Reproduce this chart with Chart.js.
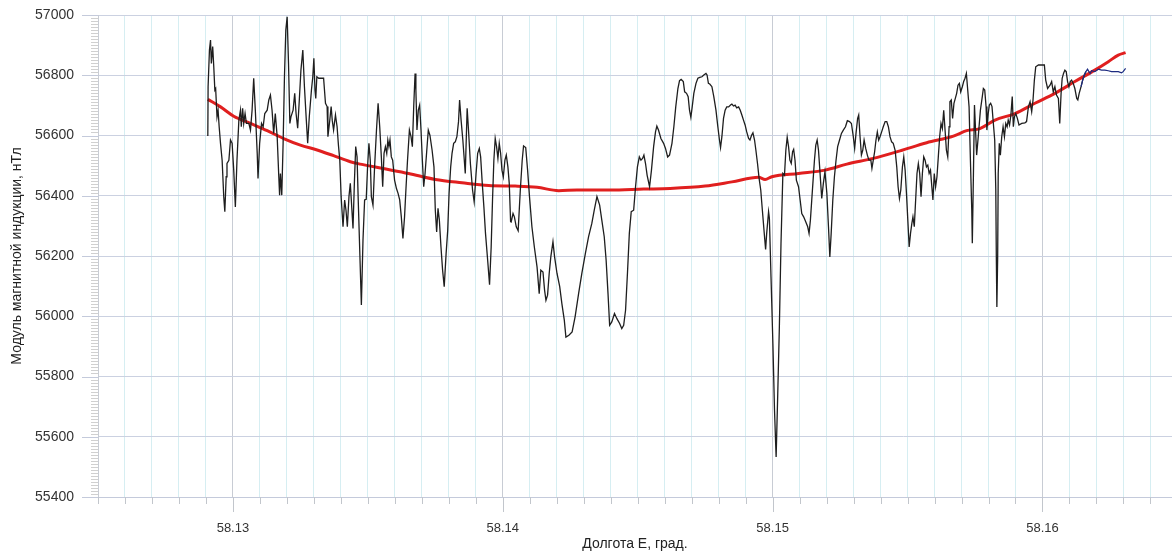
<!DOCTYPE html>
<html>
<head>
<meta charset="utf-8">
<script src="https://cdn.jsdelivr.net/npm/chart.js@4.4.1/dist/chart.umd.min.js"></script>
<style>
  html, body { margin: 0; padding: 0; background: #fff; }
  #wrap { width: 1172px; height: 558px; }
</style>
</head>
<body>
<div id="wrap"><canvas id="magnetic"></canvas></div>
<script>
// longitude (deg E) and total field (nT) along the profile
const lonMain = [
  58.12907, 58.12908, 58.12913, 58.12917, 58.12920, 58.12925, 58.12929, 58.12933, 58.12936, 58.12941,
  58.12945, 58.12949, 58.12954, 58.12960, 58.12966, 58.12970, 58.12975, 58.12978, 58.12985, 58.12991,
  58.12997, 58.13003, 58.13009, 58.13015, 58.13022, 58.13028, 58.13031, 58.13036, 58.13040, 58.13045,
  58.13050, 58.13059, 58.13065, 58.13071, 58.13077, 58.13083, 58.13090, 58.13093, 58.13099, 58.13106,
  58.13112, 58.13118, 58.13127, 58.13133, 58.13139, 58.13145, 58.13151, 58.13157, 58.13164, 58.13170,
  58.13173, 58.13176, 58.13181, 58.13186, 58.13191, 58.13196, 58.13201, 58.13206, 58.13211, 58.13215,
  58.13223, 58.13229, 58.13234, 58.13240, 58.13246, 58.13252, 58.13259, 58.13265, 58.13272, 58.13277,
  58.13283, 58.13291, 58.13296, 58.13300, 58.13304, 58.13307, 58.13311, 58.13318, 58.13336, 58.13343,
  58.13349, 58.13352, 58.13359, 58.13364, 58.13368, 58.13373, 58.13380, 58.13386, 58.13391, 58.13396,
  58.13401, 58.13408, 58.13414, 58.13419, 58.13424, 58.13430, 58.13435, 58.13441, 58.13445, 58.13450,
  58.13455, 58.13460,
  58.13464, 58.13476, 58.13482, 58.13488, 58.13494, 58.13499, 58.13504, 58.13509, 58.13513, 58.13519,
  58.13525, 58.13532, 58.13538, 58.13544, 58.13550, 58.13555, 58.13560, 58.13565, 58.13570, 58.13574,
  58.13578, 58.13582, 58.13587, 58.13592, 58.13599, 58.13606, 58.13612, 58.13618, 58.13624, 58.13630,
  58.13636, 58.13641, 58.13647, 58.13654, 58.13660, 58.13665, 58.13670, 58.13675, 58.13678, 58.13682,
  58.13687, 58.13692, 58.13697, 58.13702, 58.13707, 58.13712, 58.13718, 58.13724, 58.13730, 58.13738,
  58.13745, 58.13750, 58.13755, 58.13760, 58.13765, 58.13771, 58.13777, 58.13783, 58.13790, 58.13796,
  58.13801, 58.13807, 58.13812, 58.13818, 58.13824, 58.13830, 58.13836, 58.13840, 58.13846, 58.13852,
  58.13861, 58.13868, 58.13873, 58.13880, 58.13888, 58.13894, 58.13901, 58.13907, 58.13913, 58.13918,
  58.13924, 58.13930, 58.13936, 58.13944, 58.13951, 58.13957, 58.13962, 58.13967, 58.13972, 58.13977,
  58.13982, 58.13987, 58.13992, 58.13997, 58.14002, 58.14008, 58.14013, 58.14019, 58.14024, 58.14029,
  58.14031, 58.14038, 58.14043, 58.14050, 58.14057, 58.14065, 58.14072, 58.14077, 58.14085, 58.14092,
  58.14099, 58.14108, 58.14117, 58.14127, 58.14135, 58.14141, 58.14149, 58.14155, 58.14160, 58.14166,
  58.14172, 58.14178, 58.14186, 58.14192, 58.14201, 58.14211, 58.14219, 58.14228, 58.14234, 58.14245,
  58.14257, 58.14268, 58.14281, 58.14293, 58.14306, 58.14318, 58.14330, 58.14339, 58.14349, 58.14359,
  58.14367, 58.14376, 58.14383, 58.14390, 58.14396, 58.14404, 58.14414, 58.14423, 58.14433, 58.14441,
  58.14448, 58.14455, 58.14462, 58.14469, 58.14476, 58.14485, 58.14492, 58.14499, 58.14506, 58.14512,
  58.14518, 58.14523, 58.14529, 58.14535, 58.14544, 58.14551, 58.14559, 58.14566, 58.14571, 58.14577,
  58.14586, 58.14596, 58.14603, 58.14611, 58.14618,
  58.14627, 58.14634, 58.14641, 58.14649, 58.14655, 58.14661, 58.14669, 58.14674, 58.14681, 58.14687,
  58.14692, 58.14697, 58.14702, 58.14708, 58.14716, 58.14723, 58.14730, 58.14738, 58.14745, 58.14753,
  58.14757, 58.14762, 58.14767, 58.14775, 58.14782, 58.14790, 58.14797, 58.14803, 58.14807, 58.14812,
  58.14818, 58.14824, 58.14830, 58.14837, 58.14844, 58.14849, 58.14855, 58.14861, 58.14867, 58.14874,
  58.14880, 58.14886, 58.14892, 58.14898, 58.14904, 58.14911, 58.14916, 58.14922, 58.14927, 58.14933,
  58.14938, 58.14944, 58.14950, 58.14956, 58.14962, 58.14969, 58.14974, 58.14978, 58.14985, 58.14988,
  58.14994, 58.15001, 58.15007, 58.15013, 58.15019, 58.15025, 58.15031, 58.15038, 58.15044, 58.15049,
  58.15054, 58.15059, 58.15064, 58.15069, 58.15074, 58.15078, 58.15083, 58.15088, 58.15096, 58.15102,
  58.15108, 58.15115, 58.15123, 58.15130, 58.15135, 58.15140, 58.15145, 58.15150, 58.15155, 58.15160,
  58.15165, 58.15170, 58.15175,
  58.15182, 58.15188, 58.15194, 58.15201, 58.15207, 58.15212, 58.15217, 58.15223, 58.15229, 58.15235,
  58.15241, 58.15248, 58.15255, 58.15262, 58.15270, 58.15277, 58.15285, 58.15292, 58.15299, 58.15304,
  58.15309, 58.15315, 58.15319, 58.15324, 58.15329, 58.15334, 58.15339, 58.15345, 58.15351, 58.15357,
  58.15364, 58.15368, 58.15373, 58.15378, 58.15383, 58.15388, 58.15393, 58.15398, 58.15404, 58.15410,
  58.15417, 58.15423, 58.15429, 58.15435, 58.15441, 58.15447, 58.15454, 58.15460, 58.15465, 58.15470,
  58.15475, 58.15481, 58.15486, 58.15491, 58.15496, 58.15501, 58.15506, 58.15511, 58.15516, 58.15520,
  58.15525, 58.15530, 58.15535, 58.15540, 58.15545, 58.15550, 58.15555, 58.15560, 58.15565, 58.15570,
  58.15575, 58.15580, 58.15585, 58.15589, 58.15594, 58.15599, 58.15604, 58.15609, 58.15614, 58.15619,
  58.15624, 58.15629, 58.15634, 58.15639, 58.15644, 58.15649, 58.15654, 58.15657, 58.15662, 58.15667,
  58.15672, 58.15677, 58.15682, 58.15687, 58.15692, 58.15697, 58.15703, 58.15708, 58.15713, 58.15718,
  58.15723, 58.15728, 58.15733, 58.15738, 58.15740, 58.15744, 58.15748,
  58.15756, 58.15762, 58.15770, 58.15777, 58.15781, 58.15786, 58.15791, 58.15794, 58.15799, 58.15803,
  58.15808, 58.15813, 58.15818, 58.15823, 58.15827, 58.15829, 58.15831, 58.15834, 58.15836, 58.15840,
  58.15844, 58.15849, 58.15854, 58.15859, 58.15864, 58.15869, 58.15873, 58.15878, 58.15883, 58.15888,
  58.15892, 58.15896, 58.15901, 58.15907, 58.15913, 58.15923, 58.15935, 58.15941, 58.15948, 58.15954,
  58.15960, 58.15965, 58.15970, 58.15975, 58.15985, 58.15997, 58.16007, 58.16012, 58.16019, 58.16028,
  58.16034, 58.16040, 58.16046, 58.16052, 58.16059, 58.16064, 58.16069, 58.16073, 58.16078, 58.16083,
  58.16088, 58.16093, 58.16098, 58.16103, 58.16108, 58.16114, 58.16120, 58.16127, 58.16131, 58.16136,
  58.16143, 58.16149, 58.16155, 58.16161
];
const fieldMain = [
  56598, 56762, 56884, 56917, 56839, 56895, 56828, 56751, 56756, 56662,
  56684, 56629, 56574, 56518, 56397, 56347, 56463, 56507, 56518, 56585,
  56574, 56485, 56363, 56518, 56651, 56684, 56629, 56690, 56640, 56673,
  56640, 56640, 56618, 56684, 56790, 56684, 56541, 56457, 56574, 56640,
  56629, 56673, 56684, 56718, 56734, 56684, 56607, 56673, 56596, 56463,
  56402, 56474, 56402, 56574, 56795, 56950, 56994, 56839, 56640, 56662,
  56684, 56740, 56673, 56624, 56718, 56817, 56884, 56762, 56651, 56574,
  56662, 56751, 56795, 56856, 56751, 56723, 56795, 56790, 56790, 56707,
  56696, 56596, 56651, 56696, 56651, 56618, 56668, 56629, 56568, 56518,
  56397, 56297, 56386, 56352, 56297, 56397, 56441, 56352, 56291, 56441,
  56563, 56529,
  56397, 56037, 56253, 56386, 56388, 56496, 56574, 56518, 56397, 56369,
  56496, 56618, 56707, 56629, 56529, 56430, 56541, 56563, 56541, 56585,
  56563, 56585, 56529, 56518, 56452, 56424, 56408, 56386, 56330, 56258,
  56330, 56419, 56518, 56618, 56596, 56563, 56696, 56806, 56751, 56618,
  56684, 56701, 56618, 56518, 56430, 56474, 56546, 56618, 56601, 56552,
  56496, 56352, 56280, 56358, 56319, 56230, 56153, 56098, 56208, 56286,
  56408, 56496, 56541, 56574, 56579, 56596, 56646, 56718, 56646, 56585,
  56474, 56690, 56618, 56507, 56419, 56380, 56474, 56541, 56557, 56529,
  56441, 56363, 56275, 56186, 56105, 56230, 56386, 56518, 56590, 56563,
  56524, 56574, 56541, 56485, 56463, 56518, 56535, 56496, 56441, 56314,
  56313, 56341, 56330, 56297, 56284, 56419, 56518, 56565, 56560, 56485,
  56397, 56297, 56230, 56164, 56075, 56153, 56147, 56086, 56053, 56070,
  56142, 56197, 56247, 56197, 56142, 56098, 56042, 55987, 55931, 55937,
  55948, 55998, 56075, 56142, 56208, 56264, 56308, 56352, 56397, 56369,
  56319, 56264, 56186, 56075, 55970, 55981, 56009, 55992, 55976, 55959,
  55970, 56020, 56142, 56275, 56347, 56352, 56430, 56496, 56529, 56518,
  56524, 56535, 56507, 56468, 56430, 56485, 56563, 56612, 56631, 56618,
  56590, 56574, 56557, 56529, 56535,
  56574, 56629, 56695, 56756, 56782, 56786, 56779, 56745, 56740, 56729,
  56684, 56660, 56695, 56740, 56773, 56790, 56793, 56795, 56801, 56806,
  56801, 56773, 56771, 56762, 56729, 56684, 56629, 56585, 56560, 56596,
  56657, 56684, 56695, 56695, 56701, 56704, 56698, 56701, 56692, 56695,
  56684, 56668, 56651, 56635, 56612, 56590, 56585, 56601, 56609, 56585,
  56551, 56507, 56457, 56419, 56352, 56275, 56222, 56275, 56347, 56325,
  56131, 55909, 55688, 55533, 55743, 55965, 56241, 56474, 56468, 56551,
  56594, 56563, 56518, 56507, 56546, 56554, 56518, 56452, 56430, 56386,
  56341, 56330, 56313, 56297, 56275, 56319, 56386, 56452, 56518, 56568,
  56585, 56551, 56485,
  56391, 56441, 56480, 56408, 56297, 56197, 56275, 56386, 56463, 56518,
  56563, 56585, 56607, 56618, 56629, 56649, 56646, 56640, 56596, 56557,
  56607, 56657, 56668, 56596, 56535, 56551, 56585, 56557, 56535, 56518,
  56518, 56491, 56518, 56546, 56585, 56612, 56585, 56596, 56612, 56629,
  56646, 56646, 56629, 56596, 56579, 56574, 56551, 56496, 56430, 56391,
  56419, 56496, 56529, 56485, 56408, 56319, 56230, 56275, 56308, 56330,
  56297, 56386, 56474, 56507, 56474, 56397, 56474, 56529, 56518, 56496,
  56502, 56474, 56485, 56441, 56386, 56474, 56430, 56463, 56529, 56596,
  56640, 56623, 56684, 56618, 56551, 56529, 56629, 56712, 56718, 56657,
  56707, 56723, 56740, 56767, 56773, 56745, 56762, 56779, 56790, 56806,
  56751, 56695, 56518, 56352, 56242, 56463, 56701,
  56535, 56596, 56684, 56729, 56756, 56751, 56696, 56618, 56673, 56701,
  56707, 56696, 56640, 56585, 56419, 56197, 56031, 56197, 56474, 56574,
  56535, 56596, 56629, 56596, 56640, 56629, 56651, 56635, 56668, 56729,
  56629, 56662, 56673, 56657, 56635, 56640, 56642, 56646, 56696, 56712,
  56679, 56718, 56784, 56828, 56834, 56834, 56834, 56784, 56756, 56767,
  56779, 56745, 56762, 56734, 56723, 56640, 56740, 56790, 56806, 56817,
  56812, 56779, 56762, 56779, 56784, 56773, 56756, 56723, 56718, 56740,
  56762, 56784, 56801, 56812
];
// end of the profile, second (navy) trace
const lonTail = [
  58.16143, 58.16149, 58.16155, 58.16161, 58.16167, 58.16172, 58.16177, 58.16182, 58.16194, 58.16207,
  58.16219, 58.16231, 58.16244, 58.16256, 58.16269, 58.16281, 58.16293, 58.16299, 58.16308
];
const fieldTail = [
  56762, 56784, 56801, 56812, 56820, 56812, 56806, 56815, 56812, 56820,
  56817, 56817, 56815, 56812, 56812, 56812, 56808, 56812, 56823
];
// regional trend
const lonTrend = [
  58.12907, 58.12954, 58.13003, 58.13065, 58.13127, 58.13188, 58.13250, 58.13312, 58.13373, 58.13435,
  58.13472, 58.13552, 58.13651, 58.13750, 58.13849, 58.13948, 58.14046, 58.14127, 58.14207, 58.14275,
  58.14398, 58.14522, 58.14620, 58.14750, 58.14849, 58.14948, 58.14972, 58.14997, 58.15096, 58.15195,
  58.15275, 58.15373, 58.15472, 58.15571, 58.15670, 58.15719, 58.15768, 58.15824, 58.15898, 58.15972,
  58.16046, 58.16120, 58.16194, 58.16244, 58.16281, 58.16308
];
const fieldTrend = [
  56720, 56695, 56664, 56640, 56616, 56590, 56568, 56552, 56533, 56513,
  56505, 56491, 56474, 56454, 56443, 56434, 56432, 56428, 56417, 56419,
  56419, 56422, 56424, 56432, 56446, 56461, 56454, 56463, 56474, 56485,
  56505, 56524, 56549, 56576, 56598, 56616, 56623, 56651, 56673, 56707,
  56740, 56779, 56817, 56845, 56867, 56875
];
const xTickLabels = ['58.13', '58.14', '58.15', '58.16'];
const yTicks = [55400, 55600, 55800, 56000, 56200, 56400, 56600, 56800, 57000];

const toXY = (xs, ys) => xs.map((x, i) => ({x: x, y: ys[i]}));
const isMajor = v => xTickLabels.some(l => Math.abs(parseFloat(l) - v) < 1e-7);

const font = 'Liberation Sans, Arial, sans-serif';

const axisMarks = {
  id: 'axisMarks',
  afterDraw(chart) {
    const {ctx, chartArea, scales: {x, y}} = chart;
    ctx.save();
    ctx.lineWidth = 1;
    // minor hatch along the y axis
    ctx.strokeStyle = '#d0d0d0';
    for (let v = 55400; v <= 57000; v += 10) {
      const py = Math.round(y.getPixelForValue(v)) + 0.5;
      ctx.beginPath();
      ctx.moveTo(chartArea.left - 7, py);
      ctx.lineTo(chartArea.left, py);
      ctx.stroke();
    }
    ctx.strokeStyle = '#c4cadb';
    yTicks.forEach(v => {
      const py = Math.round(y.getPixelForValue(v)) + 0.5;
      ctx.beginPath();
      ctx.moveTo(chartArea.left - 16, py);
      ctx.lineTo(chartArea.left, py);
      ctx.stroke();
    });
    // x tick marks
    ctx.strokeStyle = '#c2c6cc';
    x.ticks.forEach(t => {
      const px = Math.round(x.getPixelForValue(t.value)) + 0.5;
      ctx.beginPath();
      ctx.moveTo(px, chartArea.bottom);
      ctx.lineTo(px, chartArea.bottom + (isMajor(t.value) ? 15 : 7));
      ctx.stroke();
    });
    ctx.restore();
  }
};

new Chart(document.getElementById('magnetic'), {
  type: 'line',
  data: {
    datasets: [{
      data: toXY(lonTail, fieldTail),
      borderColor: '#1c2a80',
      borderWidth: 1.2,
      pointRadius: 0
    }, {
      data: toXY(lonMain, fieldMain),
      borderColor: '#1e1e1e',
      borderWidth: 1.3,
      pointRadius: 0
    }, {
      data: toXY(lonTrend, fieldTrend),
      borderColor: '#e01f1f',
      borderWidth: 3,
      pointRadius: 0,
      cubicInterpolationMode: 'monotone'
    }]
  },
  options: {
    responsive: true,
    maintainAspectRatio: false,
    animation: false,
    layout: { padding: { top: 15, right: 0, bottom: 0, left: 0 } },
    plugins: {
      legend: { display: false },
      tooltip: { enabled: false }
    },
    scales: {
      x: {
        type: 'linear',
        min: 58.125,
        max: 58.1648,
        afterFit: s => { s.height = 61; },
        grid: {
          color: c => isMajor(c.tick.value) ? '#c8ccd4' : '#d6eef2',
          tickColor: 'rgba(0,0,0,0)',
          tickLength: 24
        },
        border: { color: '#c4cadb' },
        ticks: {
          stepSize: 0.001,
          includeBounds: false,
          autoSkip: false,
          maxRotation: 0,
          padding: 0,
          color: '#333',
          font: { family: font, size: 13 },
          callback: v => {
            const l = xTickLabels.find(s => Math.abs(parseFloat(s) - v) < 1e-7);
            return l || '';
          }
        },
        title: {
          display: true,
          text: 'Долгота E, град.',
          color: '#222',
          font: { family: font, size: 14 },
          padding: { top: 0, bottom: 5 }
        }
      },
      y: {
        min: 55400,
        max: 57000,
        afterFit: s => { s.width = 98; },
        grid: { color: '#cbd1e1', tickColor: 'rgba(0,0,0,0)', tickLength: 24 },
        border: { color: '#c8ccd4' },
        ticks: {
          stepSize: 200,
          padding: 0,
          color: '#333',
          font: { family: font, size: 14 },
          callback: v => String(v)
        },
        title: {
          display: true,
          text: 'Модуль магнитной индукции, нТл',
          color: '#222',
          font: { family: font, size: 14 },
          padding: { top: 9, bottom: 0 }
        }
      }
    }
  },
  plugins: [axisMarks]
});
</script>
</body>
</html>
